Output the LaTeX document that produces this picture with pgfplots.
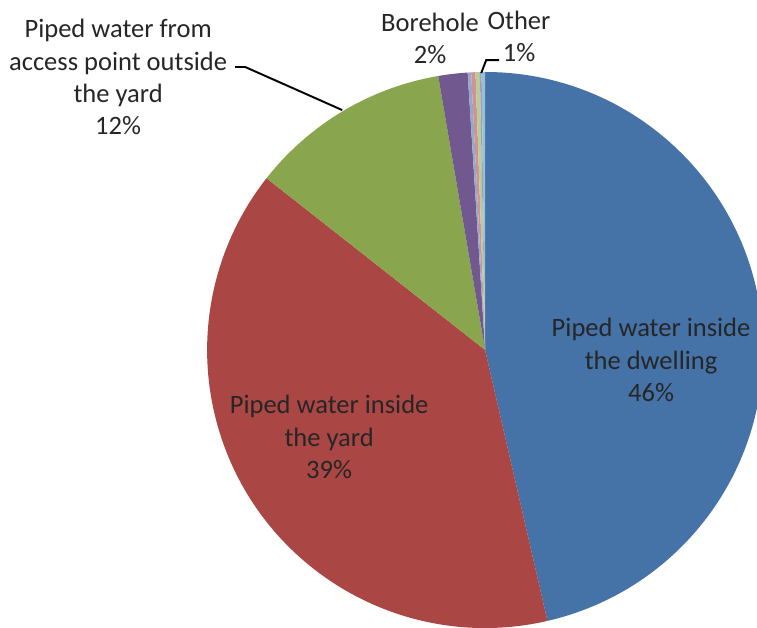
\documentclass[border=0pt]{standalone}
\usepackage{fontspec}
\setmainfont{Carlito}
\usepackage{pgfplots}
\usepackage{pgfplotstable}
\pgfplotsset{compat=1.18}

\definecolor{cBlue}{HTML}{4572A7}
\definecolor{cRed}{HTML}{AA4643}
\definecolor{cGreen}{HTML}{89A54E}
\definecolor{cPurple}{HTML}{71588F}
\definecolor{cLBlue}{HTML}{93A9CF}
\definecolor{cPink}{HTML}{D19392}
\definecolor{cLGreen}{HTML}{B9CD96}
\definecolor{cLPurple}{HTML}{A99BBD}
\definecolor{cLCyan}{HTML}{91C3D5}
\definecolor{labeltext}{HTML}{262626}

% Shares of households by main source of water (percent), clockwise from 12 o'clock
\pgfplotstableread{
share colour
46.4 cBlue
39.2 cRed
11.7 cGreen
1.7  cPurple
0.2  cLBlue
0.25 cPink
0.25 cLGreen
0.1  cLPurple
0.2  cLCyan
}\piedata

\begin{document}
\begin{tikzpicture}
\useasboundingbox (0,0) rectangle (15.14cm,12.56cm);
\clip (0,0) rectangle (15.14cm,12.56cm);
\begin{axis}[
  at={(0,0)}, anchor=south west,
  x=5.56cm, y=5.56cm,
  xmin=-1.745, xmax=0.978, ymin=-1.0, ymax=1.259,
  hide axis, clip=false,
]
\pgfplotstablegetrowsof{\piedata}
\pgfmathtruncatemacro\lastrow{\pgfplotsretval-1}
\gdef\angA{90}
\pgfplotsforeachungrouped \i in {0,...,\lastrow}{%
  \pgfplotstablegetelem{\i}{share}\of\piedata
  \let\share\pgfplotsretval
  \pgfplotstablegetelem{\i}{colour}\of\piedata
  \let\col\pgfplotsretval
  \pgfmathsetmacro\angB{\angA-3.6*\share}
  \pgfmathsetmacro\cx{cos(\angA)}
  \pgfmathsetmacro\cy{sin(\angA)}
  \edef\doslice{\noexpand\fill[\col] (axis cs:0,0) -- (axis cs:\cx,\cy)
    arc[start angle=\angA, end angle=\angB, radius=5.56cm] -- cycle;}
  \doslice
  \global\let\angA\angB
}

\begin{scope}[every node/.style={align=center, text=labeltext,
    font=\fontsize{15.1}{18.3}\selectfont}]
\node at (axis cs:0.597,-0.036) {Piped water inside\\the dwelling\\46\%};
\node at (axis cs:-0.561,-0.313) {Piped water inside\\the yard\\39\%};
\node at (axis cs:-1.320,0.982) {Piped water from\\access point outside\\the yard\\12\%};
\node at (axis cs:-0.198,1.122) {Borehole\\2\%};
\node at (axis cs:0.122,1.129) {Other\\1\%};
\end{scope}
\draw[black, line width=1.1pt] (axis cs:-0.899,1.018) -- (axis cs:-0.863,1.018) -- (axis cs:-0.514,0.863);
\draw[black, line width=1.1pt] (axis cs:-0.014,0.996) -- (axis cs:0.004,1.043) -- (axis cs:0.050,1.043);
\end{axis}
\end{tikzpicture}
\end{document}
